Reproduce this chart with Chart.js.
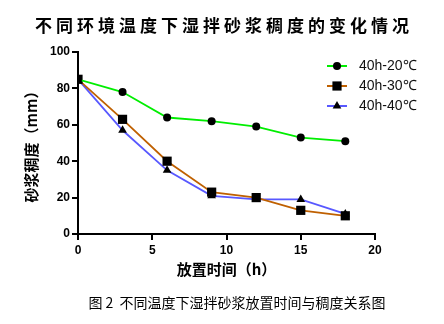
<!DOCTYPE html>
<html>
<head>
<meta charset="utf-8">
<script src="https://cdn.jsdelivr.net/npm/chart.js@4/dist/chart.umd.min.js"></script>
<style>
  body { margin: 0; background: #fff; }
  #wrap { position: relative; width: 444px; height: 324px; }
  #chart-title {
    position: absolute; left: 0; top: 12px; width: 448px; text-align: center;
    font: bold 17px "Noto Sans CJK SC", sans-serif; letter-spacing: 4px;
    color: #000; line-height: 26px;
  }
  #caption {
    position: absolute; left: 0; top: 292px; width: 474px; text-align: center;
    font: 14px "Noto Sans CJK SC", sans-serif; color: #000; line-height: 20px;
  }
</style>
</head>
<body>
<div id="wrap">
  <canvas id="mortar-chart" width="444" height="324"></canvas>
  <div id="chart-title">不同环境温度下湿拌砂浆稠度的变化情况</div>
  <div id="caption">图 2&nbsp; 不同温度下湿拌砂浆放置时间与稠度关系图</div>
</div>
<script>
// Standing time (h)
const hours = [0, 3, 6, 9, 12, 15, 18];

// Consistency (mm) for each temperature
const temp20 = [85, 78, 64, 62, 59, 53, 51];
const temp30 = [85, 63, 40, 23, 20, 13, 10];
const temp40 = [85, 57, 35, 21, 19, 19, 11];

const seriesNames = ["40h-20℃", "40h-30℃", "40h-40℃"];
const xTicks = [0, 5, 10, 15, 20];
const yTicks = [0, 20, 40, 60, 80, 100];

function toPoints(values) {
  return hours.map((h, i) => ({ x: h, y: values[i] }));
}

// Legend drawn in the top-right corner, line + black marker + text
const cornerLegend = {
  id: "cornerLegend",
  afterDatasetsDraw(chart) {
    const ctx = chart.ctx;
    const area = chart.chartArea;
    const x0 = area.right - 48;
    chart.data.datasets.forEach((ds, i) => {
      const y = area.top + 14 + i * 20;
      ctx.save();
      ctx.strokeStyle = ds.borderColor;
      ctx.lineWidth = 2;
      ctx.beginPath();
      ctx.moveTo(x0, y);
      ctx.lineTo(x0 + 20, y);
      ctx.stroke();
      ctx.fillStyle = "#000";
      Chart.helpers.drawPoint(ctx, {
        pointStyle: ds.pointStyle,
        radius: ds.pointRadius,
        borderWidth: 0,
        rotation: 0,
      }, x0 + 10, y);
      ctx.font = "14px 'Liberation Sans', Arial, sans-serif";
      ctx.textBaseline = "middle";
      ctx.textAlign = "left";
      ctx.fillStyle = "#111";
      ctx.fillText(ds.label, x0 + 32, y);
      ctx.restore();
    });
  },
};

const tickFont = { family: "'Liberation Sans', Arial, sans-serif", size: 12, weight: "bold" };
const titleFont = { family: "'Noto Sans CJK SC', sans-serif", size: 15, weight: "bold" };

function makeSet(label, values, color, style, radius) {
  return {
    label: label,
    data: toPoints(values),
    borderColor: color,
    backgroundColor: color,
    borderWidth: 1.8,
    pointStyle: style,
    pointRadius: radius,
    pointHoverRadius: radius,
    pointBackgroundColor: "#000",
    pointBorderColor: "#000",
    pointBorderWidth: 0,
    tension: 0,
    fill: false,
  };
}

new Chart(document.getElementById("mortar-chart"), {
  type: "line",
  data: {
    datasets: [
      makeSet(seriesNames[0], temp20, "#00ee00", "circle", 4),
      makeSet(seriesNames[1], temp30, "#bf6000", "rect", 6.5),
      makeSet(seriesNames[2], temp40, "#5858ff", "triangle", 5),
    ],
  },
  options: {
    responsive: false,
    animation: false,
    devicePixelRatio: 1,
    layout: { padding: { left: 22, right: 69, top: 52, bottom: 46 } },
    plugins: {
      legend: { display: false },
      tooltip: { enabled: false },
    },
    scales: {
      x: {
        type: "linear",
        min: 0,
        max: 20,
        afterBuildTicks: (scale) => { scale.ticks = xTicks.map((v) => ({ value: v })); },
        afterFit: (scale) => { scale.height = 44; },
        ticks: { font: tickFont, color: "#000", padding: 3 },
        grid: { drawOnChartArea: false, color: "#000", lineWidth: 2, tickLength: 6 },
        border: { color: "#000", width: 2 },
        title: { display: true, text: "放置时间（h）", font: titleFont, color: "#000", padding: 0 },
      },
      y: {
        min: 0,
        max: 100,
        afterBuildTicks: (scale) => { scale.ticks = yTicks.map((v) => ({ value: v })); },
        afterFit: (scale) => { scale.width = 56; },
        ticks: { font: tickFont, color: "#000", padding: 2 },
        grid: { drawOnChartArea: false, color: "#000", lineWidth: 2, tickLength: 6 },
        border: { color: "#000", width: 2 },
        title: { display: true, text: "砂浆稠度（mm）", font: titleFont, color: "#000", padding: 0 },
      },
    },
  },
  plugins: [cornerLegend],
});
</script>
</body>
</html>
